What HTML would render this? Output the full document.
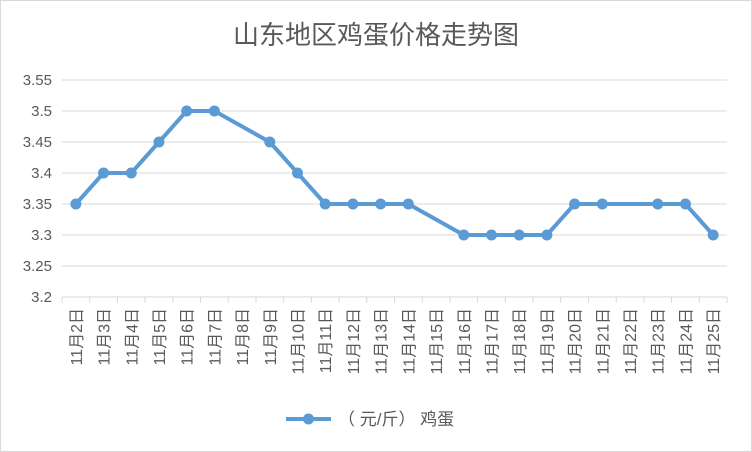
<!DOCTYPE html>
<html><head><meta charset="utf-8"><style>
body{margin:0;background:#fff}
svg{display:block;font-family:"Liberation Sans","Noto Sans CJK SC",sans-serif}
</style></head><body>
<svg id="c" width="752" height="452">
<rect x="0.5" y="0.5" width="751" height="451" fill="#fff" stroke="#d9d9d9"/>
<text x="376" y="44" text-anchor="middle" font-size="26" fill="#595959">山东地区鸡蛋价格走势图</text>
<g id="grid"></g><g id="xl"></g><g id="series"></g>
<g>
<line x1="286" y1="419" x2="331" y2="419" stroke="#5b9bd5" stroke-width="4"/>
<circle cx="308.5" cy="419" r="5.5" fill="#5b9bd5"/>
<text x="338" y="425" font-size="17" fill="#595959" xml:space="preserve">（ 元/斤） 鸡蛋</text>
</g>
</svg>
<script>
const categories=["11月2日","11月3日","11月4日","11月5日","11月6日","11月7日","11月8日","11月9日","11月10日","11月11日","11月12日","11月13日","11月14日","11月15日","11月16日","11月17日","11月18日","11月19日","11月20日","11月21日","11月22日","11月23日","11月24日","11月25日"];
const eggValues=[3.35,3.4,3.4,3.45,3.5,3.5,null,3.45,3.4,3.35,3.35,3.35,3.35,null,3.3,3.3,3.3,3.3,3.35,3.35,null,3.35,3.35,3.3];
const yTicks=[3.2,3.25,3.3,3.35,3.4,3.45,3.5,3.55];
const yTickLabels=["3.2","3.25","3.3","3.35","3.4","3.45","3.5","3.55"];
const NS="http://www.w3.org/2000/svg";
const L=62,R=727,T=80,B=297,yMin=3.2,yMax=3.55;
const bw=(R-L)/categories.length;
const xS=i=>L+bw*(i+0.5);
const yS=v=>B-(v-yMin)/(yMax-yMin)*(B-T);
function mk(tag,attrs,parent){const e=document.createElementNS(NS,tag);for(const k in attrs)e.setAttribute(k,attrs[k]);parent.appendChild(e);return e;}
const grid=document.getElementById('grid'),xl=document.getElementById('xl'),ser=document.getElementById('series');
yTicks.forEach((v,i)=>{
 if(i>0){const g=mk('line',{x1:L,x2:R,y1:yS(v),y2:yS(v),stroke:'#d9d9d9'},grid);
 
 }
 const t=mk('text',{x:52,y:yS(v)+5,'text-anchor':'end','font-size':15,fill:'#595959'},grid);
 t.textContent=yTickLabels[i];
 
 
});
const ax=mk('line',{x1:L,x2:R,y1:B,y2:B,stroke:'#d9d9d9'},grid);


categories.forEach((c,i)=>{
 const tk=mk('line',{x1:L+bw*i,x2:L+bw*i,y1:B,y2:B+6,stroke:'#d9d9d9'},grid);
 
 
 const x=xS(i)+6,y=308;
 const t=mk('text',{x:x,y:y,'text-anchor':'end','font-size':16,fill:'#595959',transform:`rotate(-90 ${x} ${y})`},xl);
 t.textContent=c;
 
 
});
const tk=mk('line',{x1:R,x2:R,y1:B,y2:B+6,stroke:'#d9d9d9'},grid);


const pts=[];eggValues.forEach((v,i)=>{if(v!=null)pts.push([xS(i),yS(v)]);});
const pl=mk('polyline',{points:pts.map(p=>p.join(',')).join(' '),fill:'none',stroke:'#5b9bd5','stroke-width':4,'stroke-linejoin':'round'},ser);


pts.forEach(p=>{const c=mk('circle',{cx:p[0],cy:p[1],r:5.5,fill:'#5b9bd5'},ser);
 
 });
</script>
</body></html>
